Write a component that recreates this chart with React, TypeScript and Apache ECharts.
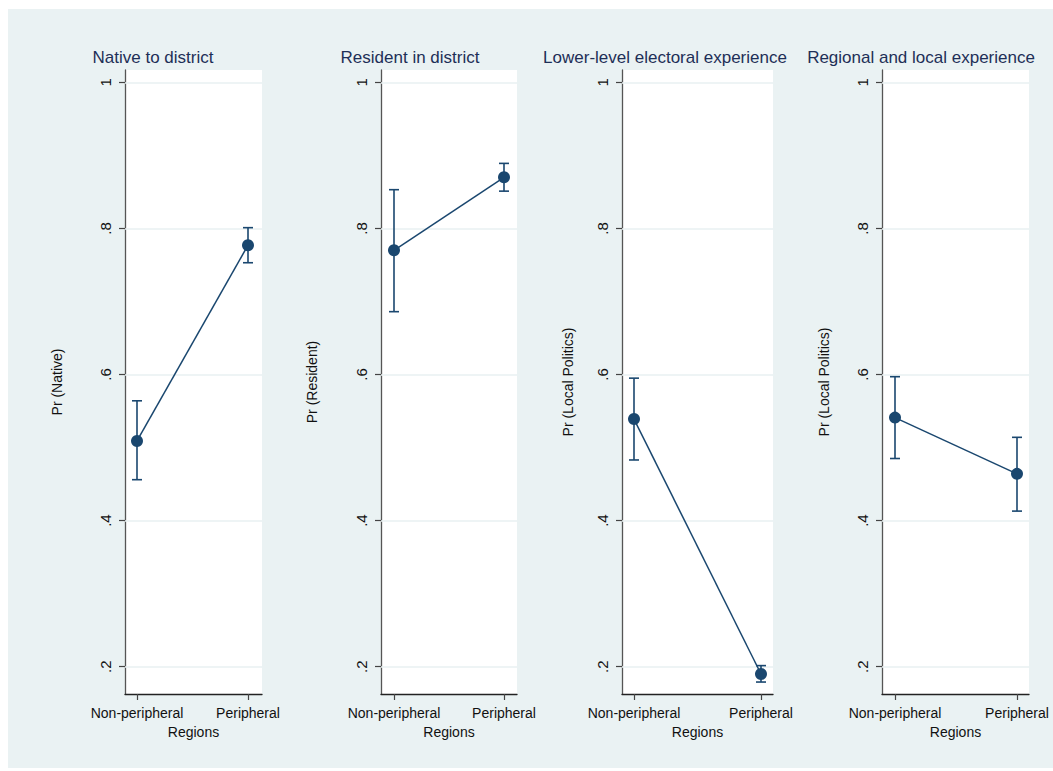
import React, { useEffect, useRef } from "react";
import * as echarts from "echarts";

// ---------- data ----------
const categories = ["Non-peripheral", "Peripheral"];
const panelTitles = [
  "Native to district",
  "Resident in district",
  "Lower-level electoral experience",
  "Regional and local experience",
];
const yAxisTitles = ["Pr (Native)", "Pr (Resident)", "Pr (Local Politics)", "Pr (Local Politics)"];
const xAxisTitle = "Regions";
const estimates = [
  [0.509, 0.777],
  [0.77, 0.87],
  [0.539, 0.19],
  [0.541, 0.464],
];
const lowerCI = [
  [0.456, 0.753],
  [0.686, 0.851],
  [0.483, 0.179],
  [0.485, 0.413],
];
const upperCI = [
  [0.564, 0.801],
  [0.853, 0.889],
  [0.595, 0.2015],
  [0.597, 0.514],
];
const yTicks = [0.2, 0.4, 0.6, 0.8, 1];
const yTickLabels = [".2", ".4", ".6", ".8", "1"];

// ---------- layout (page coordinates) ----------
const OX = 8;
const OY = 9;
const px = (x: number) => x - OX;
const py = (y: number) => y - OY;
const panels = [
  { axisX: 125, right: 262, c0: 137, c1: 248, titleX: 153, yTitleX: 57 },
  { axisX: 381, right: 517, c0: 394, c1: 504, titleX: 410, yTitleX: 312 },
  { axisX: 622, right: 773, c0: 634, c1: 761, titleX: 665, yTitleX: 568 },
  { axisX: 882, right: 1029, c0: 895, c1: 1017, titleX: 921, yTitleX: 824 },
];
const PLOT_TOP = 70;
const PLOT_BOTTOM = 694;
const Y_ONE = 82.3;
const Y_TWO = 666.7;
const yPerUnit = (Y_TWO - Y_ONE) / 0.8;
const yMax = 1 + (Y_ONE - PLOT_TOP) / yPerUnit;
const yMin = 0.2 - (PLOT_BOTTOM - Y_TWO) / yPerUnit;

const NAVY = "#1A476F";
const FONT = "'Liberation Sans', Arial, Helvetica, sans-serif";
const AXIS_COLOR = "#444";

export default function App() {
  const ref = useRef<HTMLDivElement>(null);

  useEffect(() => {
    if (!ref.current) return;
    const chart = echarts.init(ref.current, undefined, { renderer: "svg" });

    const grids: any[] = [];
    const xAxes: any[] = [];
    const yAxes: any[] = [];
    const series: any[] = [];
    const graphics: any[] = [];

    panels.forEach((p, i) => {
      const span = p.c1 - p.c0;
      grids.push({
        left: px(p.axisX),
        top: py(PLOT_TOP),
        width: p.right - p.axisX,
        height: PLOT_BOTTOM - PLOT_TOP,
        show: true,
        backgroundColor: "#ffffff",
        borderWidth: 0,
      });
      xAxes.push({
        type: "value",
        gridIndex: i,
        min: -(p.c0 - p.axisX) / span,
        max: 1 + (p.right - p.c1) / span,
        axisLine: { show: true, onZero: false, lineStyle: { color: "#222", width: 1.3 } },
        axisTick: { show: true, customValues: [0, 1], length: 6, lineStyle: { color: AXIS_COLOR, width: 1.2 } },
        axisLabel: {
          customValues: [0, 1],
          formatter: (v: number) => categories[Math.round(v)] ?? "",
          margin: 12,
          fontSize: 14,
          color: "#111",
          fontFamily: FONT,
        },
        splitLine: { show: false },
        name: xAxisTitle,
        nameLocation: "middle",
        nameGap: 26,
        nameTextStyle: { fontSize: 14, color: "#111", fontFamily: FONT },
      });
      yAxes.push({
        type: "value",
        gridIndex: i,
        min: yMin,
        max: yMax,
        axisLine: { show: true, onZero: false, lineStyle: { color: "#555", width: 1.3 } },
        axisTick: { show: true, customValues: yTicks, length: 6, lineStyle: { color: AXIS_COLOR, width: 1.2 } },
        axisLabel: {
          customValues: yTicks,
          formatter: (v: number) => {
            let best = 0;
            yTicks.forEach((t, k) => {
              if (Math.abs(t - v) < Math.abs(yTicks[best] - v)) best = k;
            });
            return yTickLabels[best];
          },
          rotate: 90,
          margin: 12,
          fontSize: 15,
          color: "#111",
          fontFamily: FONT,
        },
        splitLine: { show: false },
      });

      // error bars
      series.push({
        type: "custom",
        xAxisIndex: i,
        yAxisIndex: i,
        z: 2,
        clip: false,
        encode: { x: 0, y: [1, 2] },
        data: categories.map((_, k) => [k, lowerCI[i][k], upperCI[i][k]]),
        renderItem: (params: any, api: any) => {
          const x = api.value(0);
          const lo = api.coord([x, api.value(1)]);
          const hi = api.coord([x, api.value(2)]);
          const w = 5;
          const style = { stroke: NAVY, lineWidth: 1.6, fill: "none" };
          return {
            type: "group",
            children: [
              { type: "line", shape: { x1: lo[0], y1: lo[1], x2: hi[0], y2: hi[1] }, style },
              { type: "line", shape: { x1: lo[0] - w, y1: lo[1], x2: lo[0] + w, y2: lo[1] }, style },
              { type: "line", shape: { x1: hi[0] - w, y1: hi[1], x2: hi[0] + w, y2: hi[1] }, style },
            ],
          };
        },
      });

      // point estimates + connecting line, with gridlines as markLines
      series.push({
        type: "line",
        xAxisIndex: i,
        yAxisIndex: i,
        z: 3,
        clip: false,
        data: categories.map((_, k) => [k, estimates[i][k]]),
        symbol: "circle",
        symbolSize: 12,
        itemStyle: { color: NAVY },
        lineStyle: { color: NAVY, width: 1.5 },
        markLine: {
          silent: true,
          symbol: "none",
          label: { show: false },
          z: 1,
          lineStyle: { color: "#E8F0F2", width: 1.6, type: "solid" },
          data: yTicks.map((t) => ({ yAxis: t })),
          animation: false,
        },
      });

      graphics.push({
        type: "text",
        x: px(p.titleX),
        y: py(57),
        style: {
          text: panelTitles[i],
          fontSize: 17,
          fontFamily: FONT,
          fill: "#1E2F57",
          textAlign: "center",
          textVerticalAlign: "middle",
        },
      });
      graphics.push({
        type: "text",
        x: px(p.yTitleX),
        y: py((PLOT_TOP + PLOT_BOTTOM) / 2),
        rotation: Math.PI / 2,
        style: {
          text: yAxisTitles[i],
          fontSize: 14,
          fontFamily: FONT,
          fill: "#111",
          textAlign: "center",
          textVerticalAlign: "middle",
        },
      });
    });

    chart.setOption({
      animation: false,
      backgroundColor: "#EAF2F3",
      grid: grids,
      xAxis: xAxes,
      yAxis: yAxes,
      series,
      graphic: graphics,
    });

    return () => chart.dispose();
  }, []);

  return (
    <div
      ref={ref}
      style={{ position: "absolute", left: OX, top: OY, width: 1045, height: 759 }}
    />
  );
}
